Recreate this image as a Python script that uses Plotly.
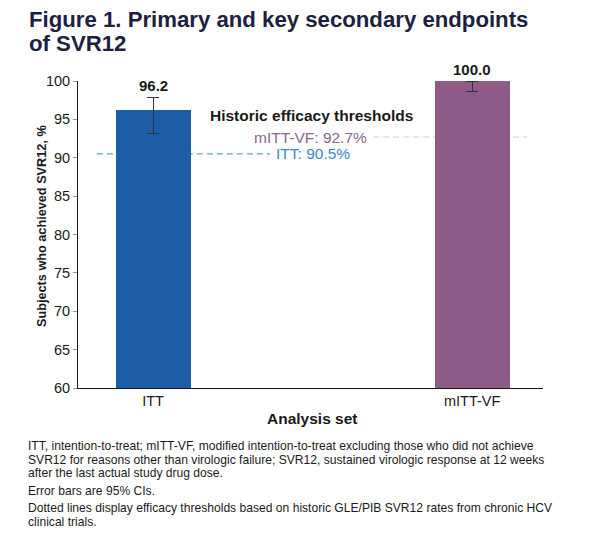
import plotly.graph_objects as go

categories = ["ITT", "mITT-VF"]
svr12 = [96.2, 100.0]
ci_lower = [93.2, 98.6]
ci_upper = [97.9, 100.0]
bar_colors = ["#1c5ea5", "#8e5b89"]

threshold_labels = ["ITT", "mITT-VF"]
threshold_values = [90.5, 92.7]
threshold_colors = ["#3b87c9", "#8d6591"]
threshold_line_colors = ["#3b87c9", "#d2c6d3"]

y_ticks = [60, 65, 70, 75, 80, 85, 90, 95, 100]

title_lines = ["Figure 1. Primary and key secondary endpoints", "of SVR12"]
footnote_lines = [
    "ITT, intention-to-treat; mITT-VF, modified intention-to-treat excluding those who did not achieve",
    "SVR12 for reasons other than virologic failure; SVR12, sustained virologic response at 12 weeks",
    "after the last actual study drug dose.",
    "Error bars are 95% CIs.",
    "Dotted lines display efficacy thresholds based on historic GLE/PIB SVR12 rates from chronic HCV",
    "clinical trials.",
]

FONT = "Liberation Sans, Arial, sans-serif"
xpos = list(range(len(categories)))

# page offset (body margin 8px); helpers convert page pixel positions to paper coords
PL, PT, PW, PH = 78, 81, 465, 307


def px(page_x):
    return (page_x - PL) / PW


def py(page_y):
    return 1 + (PT - page_y) / PH


fig = go.Figure()
fig.add_trace(go.Bar(
    x=xpos, y=svr12, width=0.235,
    marker=dict(color=bar_colors, line=dict(width=0)),
    error_y=dict(type="data", symmetric=False,
                 array=[u - v for u, v in zip(ci_upper, svr12)],
                 arrayminus=[v - l for v, l in zip(svr12, ci_lower)],
                 color="#333333", thickness=1, width=6),
    hoverinfo="skip", showlegend=False,
))

# value labels
for x, v, u in zip(xpos, svr12, ci_upper):
    fig.add_annotation(x=x, y=u, text=f"<b>{v:.1f}</b>", showarrow=False,
                       yanchor="bottom", yshift=1,
                       font=dict(family=FONT, size=15, color="#1a1a1a"))

# threshold lines
line_extents = [(-0.176, 0.367), (0.690, 1.172)]
for (x0, x1), val, lc in zip(line_extents, threshold_values, threshold_line_colors):
    fig.add_shape(type="line", xref="x", yref="y", x0=x0, x1=x1, y0=val, y1=val,
                  line=dict(color=lc, width=1, dash="6px,4px"), layer="below")

fig.add_annotation(x=0.380, y=threshold_values[0], xanchor="left",
                   text=f"{threshold_labels[0]}: {threshold_values[0]:.1f}%",
                   showarrow=False, font=dict(family=FONT, size=15.5, color=threshold_colors[0]))
fig.add_annotation(x=0.678, y=threshold_values[1], xanchor="right",
                   text=f"{threshold_labels[1]}: {threshold_values[1]:.1f}%",
                   showarrow=False, font=dict(family=FONT, size=15.5, color=threshold_colors[1]))
fig.add_annotation(x=0.498, y=95.45, text="<b>Historic efficacy thresholds</b>",
                   showarrow=False, font=dict(family=FONT, size=15.5, color="#1a1a1a"))

# title
for ypix, txt in zip([20, 44], title_lines):
    fig.add_annotation(xref="paper", yref="paper", x=px(27), y=py(ypix),
                       xanchor="left", yanchor="middle", showarrow=False,
                       text=f"<b>{txt}</b>",
                       font=dict(family=FONT, size=22.2, color="#1c2140"))

# footnotes
for ypix, txt in zip([445.7, 459.5, 473.3, 491, 508.3, 521.7], footnote_lines):
    fig.add_annotation(xref="paper", yref="paper", x=px(26), y=py(ypix),
                       xanchor="left", yanchor="middle", align="left", showarrow=False,
                       text=txt, font=dict(family=FONT, size=12.1, color="#1a1a1a"))

# y-axis title
fig.add_annotation(xref="paper", yref="paper", x=px(42), y=py(226), textangle=-90,
                   xanchor="center", yanchor="middle", showarrow=False,
                   text="<b>Subjects who achieved SVR12, %</b>",
                   font=dict(family=FONT, size=12.7, color="#1a1a1a"))

# x-axis title
fig.add_annotation(xref="paper", yref="paper", x=px(312), y=py(418),
                   xanchor="center", yanchor="middle", showarrow=False,
                   text="<b>Analysis set</b>",
                   font=dict(family=FONT, size=15.5, color="#1a1a1a"))

fig.update_layout(
    width=594, height=535,
    margin=dict(l=PL - 8, r=594 - (PL - 8) - PW, t=PT - 8, b=535 - (PT - 8) - PH),
    plot_bgcolor="white", paper_bgcolor="white",
    font=dict(family=FONT, size=13, color="#1a1a1a"),
    bargap=0,
)
fig.update_xaxes(range=[-0.235, 1.222], tickvals=xpos, ticktext=categories,
                 showline=True, linecolor="#1a1a1a", linewidth=1, showgrid=False,
                 zeroline=False, ticks="", tickfont=dict(size=14.5), automargin=False)
fig.update_yaxes(range=[60, 100], tickvals=y_ticks, showline=True, linecolor="#1a1a1a",
                 linewidth=1, showgrid=False, zeroline=False, ticks="outside",
                 ticklen=4, tickcolor="#999999", tickfont=dict(size=14.5), automargin=False)

fig.write_html("out.html")
